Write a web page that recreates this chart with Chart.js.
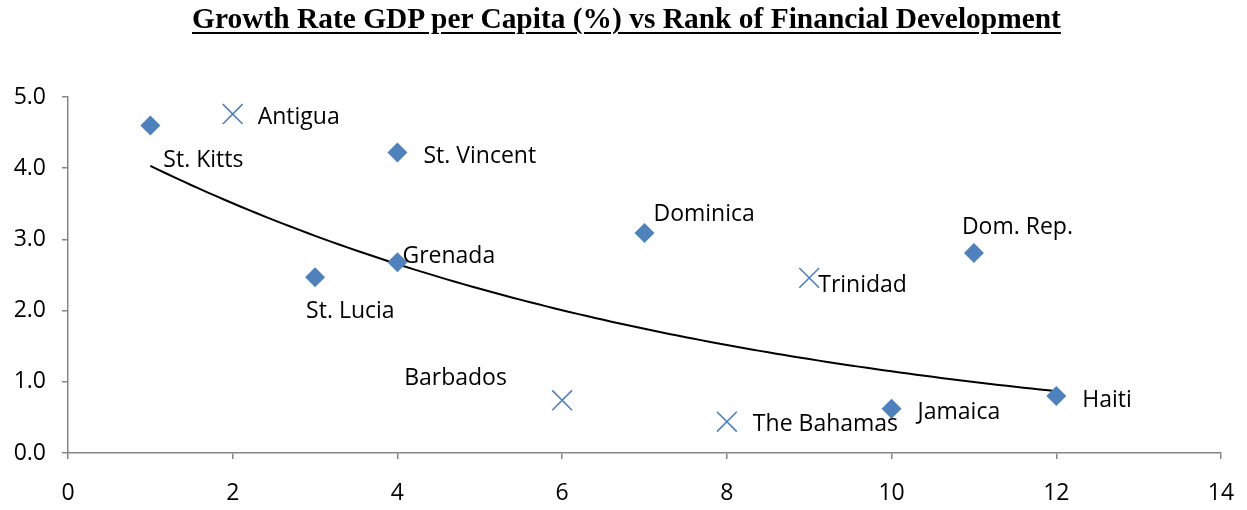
<!DOCTYPE html>
<html>
<head>
<meta charset="utf-8">
<script src="https://cdn.jsdelivr.net/npm/chart.js@4/dist/chart.umd.min.js"></script>
<style>
  html, body { margin: 0; padding: 0; background: #fff; }
  #wrap { position: relative; width: 1247px; height: 510px; }
  #title {
    position: absolute; left: 3px; top: 4px; width: 1247px; text-align: center;
    font-family: "Liberation Serif", "DejaVu Serif", serif; font-weight: bold;
    font-size: 29px; line-height: 29px; text-decoration: underline;
    text-decoration-thickness: 2px; text-underline-offset: 4px;
    color: #000; transform: scaleX(1.015);
  }
  canvas { position: absolute; left: 0; top: 0; }
</style>
</head>
<body>
<div id="wrap">
  <canvas id="chart" width="1247" height="510"></canvas>
  <div id="title">Growth Rate GDP per Capita (%) vs Rank of Financial Development</div>
</div>
<script>
// Countries, rank of financial development (x) and GDP per capita growth (y)
const countries = ["St. Kitts", "Antigua", "St. Lucia", "St. Vincent", "Grenada", "Barbados",
  "Dominica", "The Bahamas", "Trinidad", "Jamaica", "Dom. Rep.", "Haiti"]
const ranks = [1, 2, 3, 4, 4, 6, 7, 8, 9, 10, 11, 12]
const growth = [4.6, 4.76, 2.47, 4.22, 2.68, 0.74, 3.09, 0.44, 2.46, 0.62, 2.81, 0.8]
const markers = ["diamond", "cross", "diamond", "diamond", "diamond", "cross",
  "diamond", "cross", "cross", "diamond", "diamond", "diamond"]

const xTicks = [0, 2, 4, 6, 8, 10, 12, 14]
const yTicks = [0, 1, 2, 3, 4, 5]

// label offsets from the marker, in pixels (style only)
const labelOffsets = [[13, 35], [25, 3], [-9, 34], [26, 4], [5, -6], [-158, -22],
  [9, -19], [26, 3], [9, 8], [26, 4], [-12, -25], [26, 4]]

const BLUE = "#4F81BD"
const AXIS = "#868686"
const FONT = "'Open Sans', 'Noto Sans', sans-serif"

// exponential trendline fitted on all points (like Excel: ln y = ln a + b x)
function expFit(xs, ys) {
  const n = xs.length
  const ly = ys.map(Math.log)
  const mx = xs.reduce((s, v) => s + v, 0) / n
  const my = ly.reduce((s, v) => s + v, 0) / n
  let sxy = 0, sxx = 0
  xs.forEach((x, i) => { sxy += (x - mx) * (ly[i] - my); sxx += (x - mx) * (x - mx) })
  const b = sxy / sxx
  return { a: Math.exp(my - b * mx), b }
}
const fit = expFit(ranks, growth)
const xMin = Math.min(...ranks), xMax = Math.max(...ranks)
const trend = []
for (let i = 0; i <= 110; i++) {
  const x = xMin + (xMax - xMin) * i / 110
  trend.push({ x, y: fit.a * Math.exp(fit.b * x) })
}

const pts = ranks.map((x, i) => ({ x, y: growth[i], idx: i }))

// draws the country names next to the markers
const pointLabels = {
  id: "pointLabels",
  afterDatasetsDraw(chart) {
    const { ctx } = chart
    const xs = chart.scales.x, ys = chart.scales.y
    ctx.save()
    ctx.font = "23px " + FONT
    ctx.fillStyle = "#000"
    ctx.textAlign = "left"
    ctx.textBaseline = "middle"
    countries.forEach((name, i) => {
      const px = xs.getPixelForValue(ranks[i]) + labelOffsets[i][0]
      const py = ys.getPixelForValue(growth[i]) + labelOffsets[i][1]
      ctx.fillText(name, px, py)
    })
    ctx.restore()
  }
}

new Chart(document.getElementById("chart").getContext("2d"), {
  type: "scatter",
  data: {
    datasets: [
      {
        label: "Trend",
        type: "line",
        data: trend,
        borderColor: "#000",
        borderWidth: 2,
        pointRadius: 0,
        tension: 0,
        fill: false,
        order: 2
      },
      {
        label: "Diamonds",
        data: pts.filter(p => markers[p.idx] === "diamond"),
        pointStyle: "rectRot",
        pointRadius: 10,
        backgroundColor: BLUE,
        borderColor: BLUE,
        borderWidth: 0,
        order: 1
      },
      {
        label: "Crosses",
        data: pts.filter(p => markers[p.idx] === "cross"),
        pointStyle: "crossRot",
        pointRadius: 14,
        backgroundColor: BLUE,
        borderColor: BLUE,
        borderWidth: 1.6,
        order: 1
      }
    ]
  },
  options: {
    responsive: false,
    animation: false,
    layout: { padding: { top: 97, right: 26, left: 0, bottom: 0 } },
    plugins: { legend: { display: false }, tooltip: { enabled: false }, title: { display: false } },
    scales: {
      x: {
        type: "linear",
        min: xTicks[0],
        max: xTicks[xTicks.length - 1],
        afterBuildTicks: s => { s.ticks = xTicks.map(v => ({ value: v })) },
        afterFit: s => { s.height = 57; s.paddingLeft = 0; s.paddingRight = 0 },
        ticks: { color: "#000", font: { family: FONT, size: 23 }, padding: 21, callback: v => v },
        grid: { display: true, drawOnChartArea: false, drawTicks: true, tickLength: 6, color: AXIS, lineWidth: 1.5 },
        border: { color: AXIS, width: 1.5 }
      },
      y: {
        min: yTicks[0],
        max: yTicks[yTicks.length - 1],
        afterBuildTicks: s => { s.ticks = yTicks.map(v => ({ value: v })) },
        afterFit: s => { s.width = 68; s.paddingTop = 0; s.paddingBottom = 0 },
        ticks: { color: "#000", font: { family: FONT, size: 23 }, padding: 16, callback: v => v.toFixed(1) },
        grid: { display: true, drawOnChartArea: false, drawTicks: true, tickLength: 6, color: AXIS, lineWidth: 1.5 },
        border: { color: AXIS, width: 1.5 }
      }
    }
  },
  plugins: [pointLabels]
})
</script>
</body>
</html>
